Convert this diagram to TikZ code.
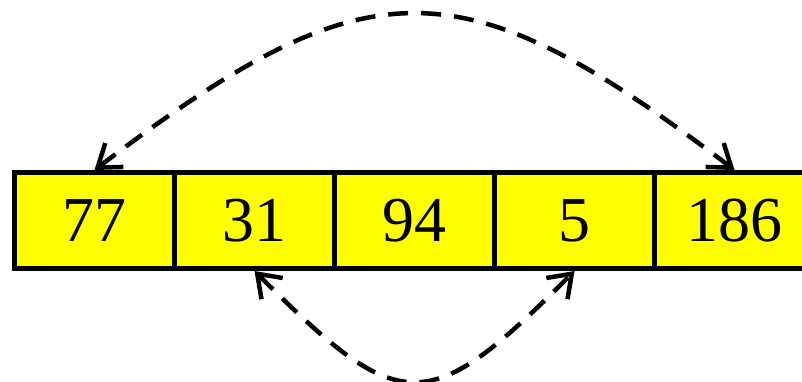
\documentclass[tikz,border=0pt]{standalone}
\usepackage{fontspec}
\setmainfont{Liberation Serif}
\usetikzlibrary{arrows.meta,calc}
\definecolor{cellyellow}{HTML}{FFFF00}
\tikzset{
  cell/.style={draw=black, fill=cellyellow, line width=5pt, minimum width=160pt,
    minimum height=96pt, inner sep=0pt, font=\fontsize{64}{70}\selectfont},
  swap/.style={line width=4.5pt, dash pattern=on 20pt off 13pt,
    {Straight Barb[length=21pt,width=30pt,line width=4.5pt]}-{Straight Barb[length=21pt,width=30pt,line width=4.5pt]}}
}
\newcommand{\celltext}[1]{\raisebox{-2pt}{#1}}
\begin{document}
\begin{tikzpicture}[x=1pt,y=-1pt]
\useasboundingbox (0,0) rectangle (802,382);
\node[cell] (a) at (94.5,220.5) {\celltext{77}};
\node[cell] (b) at (254.5,220.5) {\celltext{31}};
\node[cell] (c) at (414.5,220.5) {\celltext{94}};
\node[cell] (d) at (574.5,220.5) {\celltext{5}};
\node[cell] (e) at (734.5,220.5) {\celltext{186}};
\draw[swap] (a.north) .. controls ($(a.north)+(275,-208)$) and ($(e.north)+(-275,-208)$) .. (e.north);
\draw[swap] (b.south) .. controls ($(b.south)+(147,147)$) and ($(d.south)+(-147,147)$) .. (d.south);
\end{tikzpicture}
\end{document}
